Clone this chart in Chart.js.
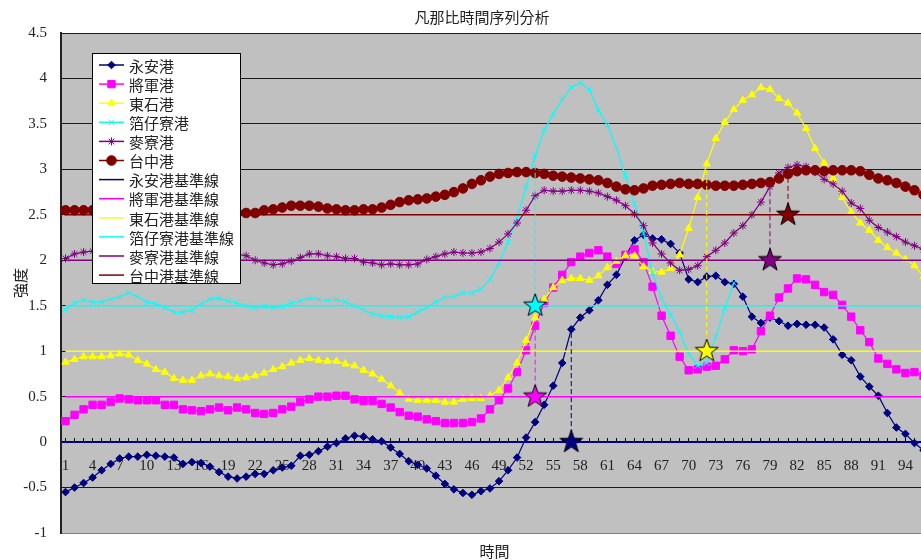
<!DOCTYPE html>
<html>
<head>
<meta charset="utf-8">
<script src="https://cdn.jsdelivr.net/npm/chart.js"></script>
<style>
  html, body { margin: 0; padding: 0; background: #fff; overflow: hidden; }
</style>
</head>
<body>
<canvas id="fanapi-canvas" width="941" height="560"></canvas>
<script>
// time steps 1..96
let timeLabels = Array.from({ length: 96 }, (_, i) => String(i + 1));

let stationNames = ['永安港', '將軍港', '東石港', '箔仔寮港', '麥寮港', '台中港'];
let stationColors = ['#000080', '#ff00ff', '#ffff00', '#00ffff', '#800080', '#800000'];
let baseValues = [0, 0.5, 1, 1.5, 2, 2.5];
// time step where each station first passes its baseline (star marks)
let markSteps = [57, 53, 72, 53, 79, 81];

let yonganData = [
  -0.55, -0.50, -0.45, -0.39, -0.31, -0.24, -0.18, -0.16, -0.16, -0.14,
  -0.15, -0.16, -0.17, -0.24, -0.22, -0.23, -0.27, -0.33, -0.38, -0.40,
  -0.38, -0.35, -0.35, -0.31, -0.28, -0.26, -0.15, -0.14, -0.10, -0.05,
  -0.01, 0.04, 0.07, 0.06, 0.03, 0.01, -0.06, -0.13, -0.21, -0.25,
  -0.29, -0.37, -0.46, -0.52, -0.56, -0.58, -0.54, -0.51, -0.43, -0.31,
  -0.17, 0.05, 0.22, 0.41, 0.62, 0.87, 1.24, 1.37, 1.45, 1.56,
  1.73, 1.84, 2.04, 2.22, 2.28, 2.24, 2.23, 2.18, 2.08, 1.79,
  1.76, 1.82, 1.83, 1.76, 1.74, 1.60, 1.38, 1.31, 1.37, 1.33,
  1.28, 1.30, 1.29, 1.29, 1.26, 1.13, 0.96, 0.90, 0.72, 0.61,
  0.51, 0.32, 0.16, 0.09, -0.01, -0.09
];
let jiangjunData = [
  0.23, 0.30, 0.36, 0.41, 0.41, 0.44, 0.48, 0.47, 0.46, 0.46,
  0.46, 0.41, 0.41, 0.36, 0.35, 0.34, 0.36, 0.38, 0.35, 0.38,
  0.36, 0.32, 0.31, 0.32, 0.36, 0.39, 0.44, 0.47, 0.50, 0.50,
  0.51, 0.51, 0.47, 0.45, 0.45, 0.42, 0.38, 0.33, 0.29, 0.28,
  0.25, 0.23, 0.21, 0.21, 0.21, 0.22, 0.26, 0.36, 0.46, 0.59,
  0.77, 1.01, 1.28, 1.53, 1.70, 1.84, 1.98, 2.04, 2.08, 2.11,
  2.04, 1.96, 2.06, 2.12, 1.98, 1.71, 1.39, 1.17, 0.94, 0.79,
  0.80, 0.83, 0.84, 0.91, 1.01, 1.00, 1.02, 1.22, 1.39, 1.59,
  1.69, 1.80, 1.79, 1.73, 1.65, 1.62, 1.51, 1.38, 1.23, 1.10,
  0.92, 0.86, 0.80, 0.76, 0.77, 0.73
];
let dongshiData = [
  0.88, 0.91, 0.94, 0.94, 0.94, 0.95, 0.97, 0.96, 0.90, 0.86,
  0.80, 0.77, 0.70, 0.68, 0.68, 0.73, 0.75, 0.73, 0.72, 0.70,
  0.71, 0.73, 0.76, 0.80, 0.83, 0.87, 0.90, 0.92, 0.90, 0.89,
  0.89, 0.86, 0.84, 0.79, 0.75, 0.69, 0.62, 0.54, 0.47, 0.46,
  0.46, 0.46, 0.44, 0.44, 0.47, 0.48, 0.48, 0.51, 0.57, 0.71,
  0.87, 1.12, 1.37, 1.57, 1.70, 1.78, 1.80, 1.80, 1.78, 1.83,
  1.92, 1.99, 2.05, 2.05, 1.93, 1.88, 1.87, 1.91, 2.06, 2.35,
  2.69, 3.06, 3.34, 3.52, 3.66, 3.76, 3.82, 3.90, 3.88, 3.78,
  3.73, 3.62, 3.45, 3.23, 3.07, 2.90, 2.69, 2.53, 2.41, 2.33,
  2.22, 2.14, 2.08, 2.01, 1.94, 1.82
];
let boziliaoData = [
  1.46, 1.53, 1.56, 1.54, 1.54, 1.57, 1.60, 1.64, 1.60, 1.54,
  1.52, 1.48, 1.43, 1.43, 1.45, 1.52, 1.57, 1.58, 1.55, 1.53,
  1.50, 1.48, 1.49, 1.48, 1.49, 1.53, 1.55, 1.58, 1.57, 1.56,
  1.57, 1.54, 1.50, 1.45, 1.41, 1.39, 1.38, 1.37, 1.38, 1.43,
  1.48, 1.54, 1.59, 1.60, 1.64, 1.64, 1.68, 1.79, 1.97, 2.20,
  2.47, 2.80, 3.15, 3.43, 3.61, 3.77, 3.90, 3.95, 3.88, 3.65,
  3.49, 3.24, 2.93, 2.62, 2.30, 1.86, 1.58, 1.40, 1.21, 0.97,
  0.84, 0.87, 1.16, 1.47, 1.75, null, null, null, null, null,
  null, null, null, null, null, null, null, null, null, null,
  null, null, null, null, null, null
];
let mailiaoData = [
  2.02, 2.07, 2.09, 2.10, 2.10, 2.09, 2.07, 2.06, 2.05, 2.05,
  2.06, 2.07, 2.07, 2.06, 2.05, 2.04, 2.05, 2.06, 2.07, 2.07,
  2.05, 2.00, 1.97, 1.95, 1.96, 1.99, 2.03, 2.07, 2.07, 2.05,
  2.04, 2.02, 2.02, 1.98, 1.97, 1.95, 1.96, 1.95, 1.95, 1.96,
  2.01, 2.04, 2.07, 2.09, 2.08, 2.08, 2.09, 2.13, 2.20, 2.29,
  2.41, 2.55, 2.71, 2.77, 2.76, 2.76, 2.77, 2.77, 2.76, 2.74,
  2.70, 2.66, 2.60, 2.51, 2.38, 2.19, 2.07, 1.97, 1.89, 1.90,
  1.94, 2.04, 2.11, 2.19, 2.30, 2.38, 2.50, 2.64, 2.81, 2.96,
  3.02, 3.05, 3.03, 2.97, 2.89, 2.84, 2.76, 2.63, 2.57, 2.44,
  2.36, 2.31, 2.26, 2.20, 2.16, 2.12
];
let taichungData = [
  2.55, 2.55, 2.55, 2.55, 2.56, 2.56, 2.56, 2.56, 2.55, 2.55,
  2.54, 2.54, 2.53, 2.53, 2.54, 2.54, 2.54, 2.53, 2.53, 2.52,
  2.52, 2.52, 2.55, 2.56, 2.58, 2.60, 2.60, 2.60, 2.59, 2.57,
  2.56, 2.55, 2.55, 2.56, 2.56, 2.58, 2.61, 2.64, 2.66, 2.67,
  2.68, 2.70, 2.72, 2.75, 2.79, 2.84, 2.88, 2.92, 2.95, 2.96,
  2.97, 2.97, 2.96, 2.95, 2.93, 2.92, 2.91, 2.90, 2.89, 2.88,
  2.85, 2.81, 2.78, 2.77, 2.79, 2.82, 2.83, 2.84, 2.85, 2.84,
  2.84, 2.83, 2.82, 2.82, 2.82, 2.83, 2.84, 2.85, 2.86, 2.90,
  2.95, 2.98, 2.99, 2.99, 2.98, 2.99, 2.99, 2.99, 2.98, 2.94,
  2.90, 2.88, 2.85, 2.81, 2.77, 2.72
];

let stationData = [yonganData, jiangjunData, dongshiData, boziliaoData, mailiaoData, taichungData];
let markerStyles = ['rectRot', 'rect', 'triangle', 'crossRot', 'star', 'circle'];
let markerSizes = [3.8, 5.2, 4.2, 4, 4, 4.8];

const cjkFont = "'Noto Sans CJK TC', 'Noto Sans CJK SC', sans-serif";
const serifFont = "'Liberation Serif', 'DejaVu Serif', serif";

/* filled five point star used as the crossing marker */
function makeStar(fill) {
  let c = document.createElement('canvas');
  c.width = 26;
  c.height = 26;
  let g = c.getContext('2d');
  g.beginPath();
  for (let k = 0; k < 10; k++) {
    let r = k % 2 === 0 ? 12 : 4.8;
    let a = -Math.PI / 2 + k * Math.PI / 5;
    let px = 13 + r * Math.cos(a), py = 13 + r * Math.sin(a);
    if (k === 0) g.moveTo(px, py); else g.lineTo(px, py);
  }
  g.closePath();
  g.fillStyle = fill;
  g.fill();
  g.strokeStyle = '#000';
  g.lineWidth = 1;
  g.stroke();
  return c;
}

let datasets = [];

/*station series*/
stationNames.forEach(function(name, i) {
  datasets.push({
    label: name,
    data: stationData[i],
    borderColor: stationColors[i],
    backgroundColor: stationColors[i],
    borderWidth: 1.2,
    pointStyle: markerStyles[i],
    pointRadius: markerSizes[i],
    pointBorderWidth: 1,
    pointBorderColor: stationColors[i],
    pointBackgroundColor: stationColors[i],
    tension: 0,
    spanGaps: false,
    order: 30 - i,
    legendKind: 'series'
  });
});

/*baselines*/
stationNames.forEach(function(name, i) {
  datasets.push({
    label: name + '基準線',
    data: timeLabels.map(() => baseValues[i]),
    borderColor: stationColors[i],
    backgroundColor: stationColors[i],
    borderWidth: 1.5,
    pointRadius: 0,
    order: 20 - i,
    legendKind: 'line'
  });
});

/*dashed drops with star marks*/
stationNames.forEach(function(name, i) {
  let step = markSteps[i];
  datasets.push({
    label: name + '_mark',
    data: [
      { x: String(step), y: baseValues[i] },
      { x: String(step), y: stationData[i][step - 1] }
    ],
    borderColor: stationColors[i],
    borderWidth: 1,
    borderDash: [5, 3],
    pointStyle: makeStar(stationColors[i]),
    pointRadius: [12, 0],
    order: 1
  });
});

/*gray plot area*/
const plotBackground = {
  id: 'plotBackground',
  beforeDraw(chart) {
    const { ctx, chartArea } = chart;
    ctx.save();
    ctx.fillStyle = '#c0c0c0';
    ctx.fillRect(chartArea.left, chartArea.top, chartArea.right - chartArea.left, chartArea.bottom - chartArea.top);
    ctx.restore();
  }
};

/*title and in-plot legend box*/
const titleAndLegend = {
  id: 'titleAndLegend',
  afterDraw(chart) {
    const { ctx, chartArea } = chart;
    ctx.save();
    ctx.font = '15px ' + cjkFont;
    ctx.fillStyle = '#222';
    ctx.textAlign = 'center';
    ctx.textBaseline = 'middle';
    ctx.fillText('凡那比時間序列分析', 482, 17);

    let bx = chartArea.left + 31, by = chartArea.top + 20;
    let bw = 148, bh = 230, rowH = 19.1;
    ctx.fillStyle = '#fff';
    ctx.fillRect(bx, by, bw, bh);
    ctx.strokeStyle = '#000';
    ctx.lineWidth = 1;
    ctx.strokeRect(bx + 0.5, by + 0.5, bw, bh);

    let items = chart.data.datasets.filter(d => d.legendKind);
    items.forEach(function(d, k) {
      let cy = by + 12 + k * rowH;
      ctx.strokeStyle = d.borderColor;
      ctx.lineWidth = 1.5;
      ctx.beginPath();
      ctx.moveTo(bx + 7, cy);
      ctx.lineTo(bx + 32, cy);
      ctx.stroke();
      if (d.legendKind === 'series' && Chart.helpers && Chart.helpers.drawPoint) {
        ctx.fillStyle = d.borderColor;
        ctx.lineWidth = 1;
        Chart.helpers.drawPoint(ctx, {
          pointStyle: d.pointStyle,
          radius: d.pointRadius,
          rotation: 0,
          borderWidth: 1
        }, bx + 19.5, cy);
      }
      ctx.fillStyle = '#222';
      ctx.font = '15px ' + cjkFont;
      ctx.textAlign = 'left';
      ctx.textBaseline = 'middle';
      ctx.fillText(d.label, bx + 37, cy + 1);
    });
    ctx.restore();
  }
};

let fanapiChart = new Chart(document.getElementById('fanapi-canvas'), {
  type: 'line',
  data: {
    labels: timeLabels,
    datasets: datasets
  },
  options: {
    responsive: false,
    animation: false,
    events: [],
    layout: { padding: { top: 33, left: 0, right: 0, bottom: 0 } },
    plugins: {
      legend: { display: false },
      title: { display: false },
      tooltip: { enabled: false }
    },
    scales: {
      x: {
        type: 'category',
        position: 'bottom',
        offset: true,
        grid: { display: false, drawTicks: false },
        border: { display: false },
        ticks: { display: false },
        title: {
          display: true,
          text: '時間',
          color: '#222',
          font: { family: cjkFont, size: 15 },
          padding: { top: 9, bottom: 0 }
        }
      },
      // labels under the zero line
      xLabels: {
        type: 'category',
        axis: 'x',
        position: { y: 0 },
        offset: true,
        grid: {
          display: true,
          drawOnChartArea: false,
          drawTicks: true,
          tickLength: 15,
          tickColor: 'rgba(0,0,0,0)'
        },
        border: { display: false },
        ticks: {
          autoSkip: false,
          maxRotation: 0,
          padding: 0,
          color: '#222',
          font: { family: serifFont, size: 15 },
          callback: function(value, index) {
            return index % 3 === 0 ? timeLabels[index] : '';
          }
        }
      },
      // short upward tick marks on the zero line
      xTicks: {
        type: 'category',
        axis: 'x',
        position: { y: 0 },
        offset: true,
        grid: {
          display: true,
          drawOnChartArea: false,
          drawTicks: true,
          tickLength: -5,
          offset: false,
          color: '#000'
        },
        border: { display: true, color: '#000080', width: 2 },
        ticks: { display: false, autoSkip: false }
      },
      y: {
        position: 'left',
        min: -1,
        max: 4.5,
        ticks: {
          stepSize: 0.5,
          padding: 14,
          color: '#222',
          font: { family: serifFont, size: 15 },
          callback: function(value) {
            return String(Math.round(value * 10) / 10);
          }
        },
        grid: {
          drawTicks: false,
          color: (ctx) => ctx.tick && ctx.tick.value === -1 ? '#808080' : '#1a1a1a',
          lineWidth: 1
        },
        border: { color: '#222', width: 2 },
        title: {
          display: true,
          text: '強度',
          color: '#222',
          font: { family: cjkFont, size: 15 },
          padding: { top: 11, bottom: 0 }
        },
        afterFit: function(scale) {
          scale.width = 61;
        }
      }
    }
  },
  plugins: [plotBackground, titleAndLegend]
});
</script>
</body>
</html>
